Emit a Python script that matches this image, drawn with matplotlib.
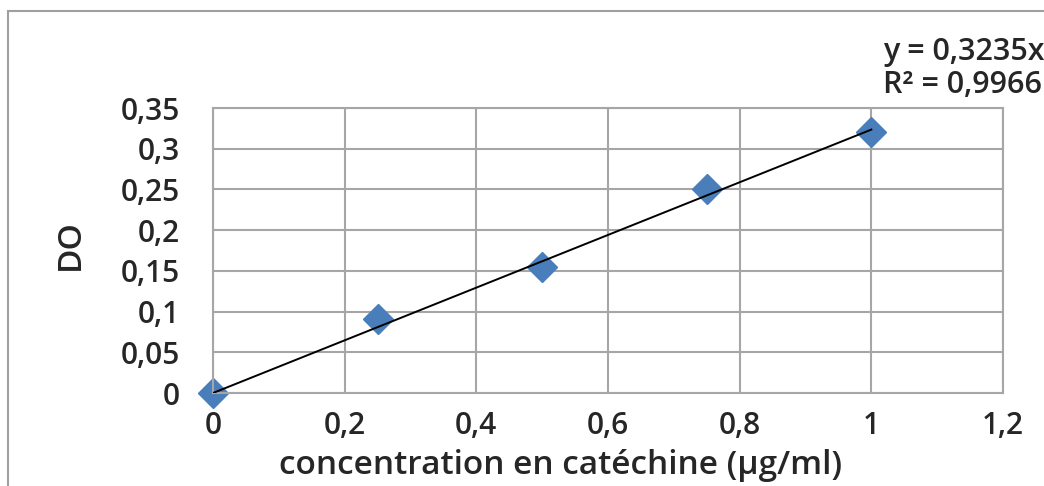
import matplotlib
matplotlib.use("Agg")
import matplotlib.pyplot as plt
from matplotlib.patches import Rectangle

# données de la courbe d'étalonnage (catéchine)
concentration = [0, 0.25, 0.5, 0.75, 1]
do_values = [0, 0.091, 0.155, 0.25, 0.32]
slope = 0.3235
r2 = 0.9966
x_ticks = [0, 0.2, 0.4, 0.6, 0.8, 1, 1.2]
y_ticks = [0, 0.05, 0.1, 0.15, 0.2, 0.25, 0.3, 0.35]

text_color = "#262626"
grid_color = "#A6A6A6"

plt.rcParams["font.family"] = ["Open Sans", "DejaVu Sans"]
plt.rcParams["font.weight"] = "semibold"
plt.rcParams["axes.labelweight"] = "semibold"

fig = plt.figure(figsize=(10.44, 4.86), dpi=100)
ax = fig.add_axes([213 / 1044, 1 - 393 / 486, 790 / 1044, 285 / 486])

# cadre extérieur du graphique
fig.patches.append(Rectangle((8 / 1044, -0.05), 1.2, 1.05 - 11 / 486,
                             transform=fig.transFigure, fill=False,
                             edgecolor="#A0A0A0", linewidth=1.5))

ax.set_xlim(0, 1.2)
ax.set_ylim(0, 0.35)
ax.set_xticks(x_ticks)
ax.set_yticks(y_ticks)
fmt = lambda v: ("%g" % v).replace(".", ",")
ax.set_xticklabels([fmt(v) for v in x_ticks])
ax.set_yticklabels([fmt(v) for v in y_ticks])
ax.tick_params(length=0, labelsize=21.5, labelcolor=text_color)
ax.tick_params(axis="x", pad=13)
ax.tick_params(axis="y", pad=24)
ax.grid(True, color=grid_color, linewidth=1.5)
ax.set_axisbelow(True)
for s in ax.spines.values():
    s.set_color(grid_color)
    s.set_linewidth(1.5)

# droite de régression
fit_x = [concentration[0], concentration[-1]]
fit_y = [slope * v for v in fit_x]
ax.plot(fit_x, fit_y, color="black", linewidth=1.4, zorder=3)
ax.plot(concentration, do_values, linestyle="none", marker="D",
        markersize=15, color="#4A7EBB", zorder=2, clip_on=False)

ax.set_xlabel("concentration en catéchine (µg/ml)", fontsize=24,
              color=text_color)
ax.xaxis.set_label_coords(0.44, -0.255)
ax.xaxis.label.set_va("center")
ax.set_ylabel("DO", fontsize=24, color=text_color)
ax.yaxis.set_label_coords(-0.18, 0.52)
ax.yaxis.label.set_va("center")

fig.text(883 / 1044, 1 - 52 / 486, "y = 0,3235x", fontsize=22,
         color=text_color, va="center", ha="left")
fig.text(883 / 1044, 1 - 85 / 486, "R² = 0,9966", fontsize=22,
         color=text_color, va="center", ha="left")

fig.savefig("out.png", dpi=100)
